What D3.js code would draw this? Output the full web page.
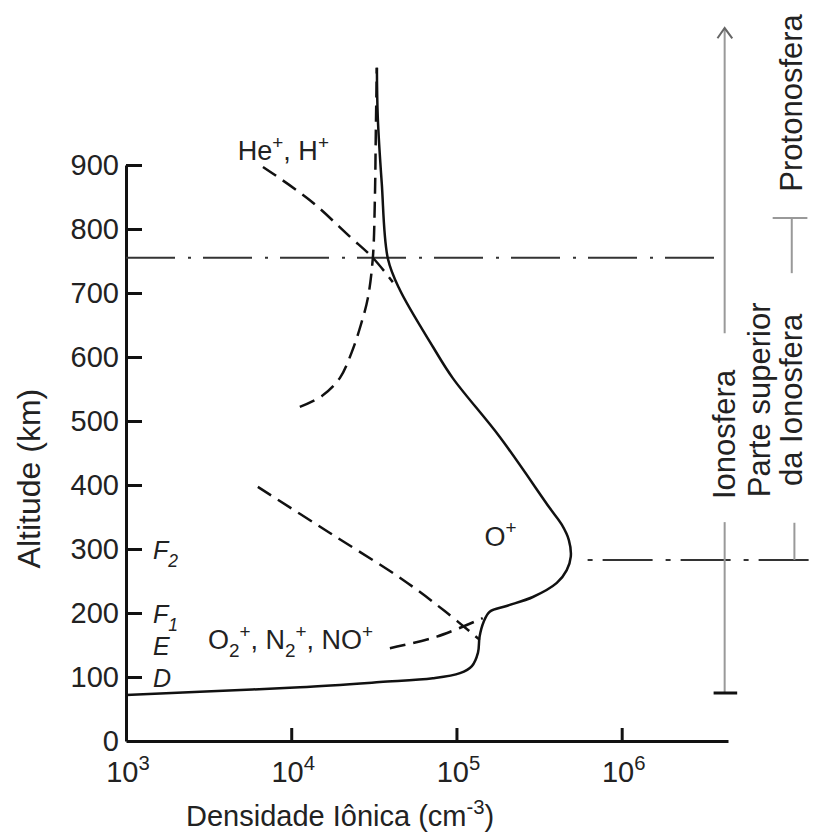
<!DOCTYPE html>
<html>
<head>
<meta charset="utf-8">
<script src="https://cdn.jsdelivr.net/npm/d3@7"></script>
<style>
  body { margin: 0; background: #fff; }
  svg text { font-family: "Liberation Sans", Arial, Helvetica, sans-serif; fill: #222; }
</style>
</head>
<body>
<div id="chart"></div>
<script>
// axis ticks
const altTicks = [0, 100, 200, 300, 400, 500, 600, 700, 800, 900]
const decades = [3, 4, 5, 6]

// solid curve (total / O+), density cm^-3 and altitude km
const solidN = [1e3, 2.8e3, 1.13e4, 3.44e4, 7.2e4, 1.05e5, 1.24e5, 1.35e5, 1.38e5, 1.46e5, 1.59e5, 2.01e5,
    2.9e5, 4.05e5, 4.65e5, 4.92e5, 4.79e5, 4.34e5, 3.67e5, 1.83e5, 9.5e4, 7.2e4, 4.54e4, 3.85e4, 3.53e4, 3.34e4, 3.3e4]
const solidAlt = [72, 77, 84, 92, 98, 106, 117, 138, 163, 186, 202, 211,
    225, 247, 267, 288, 314, 338, 364, 475, 567, 616, 705, 753, 872, 975, 1052]

// He+ dashed (upper, descending)
const heN = [6745, 12970, 22650, 31190, 41210]
const heAlt = [897, 845, 788, 755, 717]

// H+ dashed (rising to the top)
const hN = [11270, 15330, 19680, 23280, 26370, 29090, 31190, 32070, 32520, 32960]
const hAlt = [522, 539, 567, 608, 650, 692, 755, 845, 955, 1052]

// O2+, N2+, NO+ dashed (long, descending)
const molN = [6280, 17140, 47330, 84920, 138400]
const molAlt = [397, 325, 252, 203, 158]

// short dashed near the E region
const eN = [39540, 76030, 144200]
const eAlt = [145, 163, 192]

// layer letters on the left
const layerNames = ['F', 'F', 'E', 'D']
const layerSubs = ['2', '1', '', '']
const layerAlt = [300, 200, 150, 100]

// region boundaries (km)
const protoBase = 755
const peakAlt = 283
const ionoBase = 75

const width = 832, height = 834
const xMax = 4.4e6

const x = d3.scaleLog().domain([1e3, xMax]).range([126, 728])
const y = d3.scaleLinear().domain([0, 900]).range([741, 165])

const svg = d3.select('#chart').append('svg')
    .attr('width', width)
    .attr('height', height)

const richText = (sel, parts, size) => {
    let shift = 0
    parts.forEach(([t, kind]) => {
        const target = kind === 'sup' ? -0.42 * size : kind === 'sub' ? 0.3 * size : 0
        sel.append('tspan')
            .attr('dy', target - shift)
            .attr('font-size', kind ? size * 0.7 : size)
            .text(t)
        shift = target
    })
}

// y axis
const yAxis = svg.append('g')
    .attr('transform', `translate(${x(1e3)},0)`)
    .call(d3.axisLeft(y).tickValues(altTicks).tickSizeInner(-16).tickSizeOuter(0).tickPadding(7))
yAxis.selectAll('path, line').attr('stroke', '#111').attr('stroke-width', 3)
yAxis.selectAll('line').filter(d => d === 0).remove()
yAxis.selectAll('text').attr('font-size', 29).attr('fill', '#222').style('font-family', null)

// x axis
const xAxis = svg.append('g')
    .attr('transform', `translate(0,${y(0)})`)
    .call(d3.axisBottom(x).tickValues([1e4, 1e5, 1e6]).tickSizeInner(-13).tickSizeOuter(0).tickFormat(''))
xAxis.selectAll('path, line').attr('stroke', '#111').attr('stroke-width', 3)

decades.forEach(p => {
    const t = svg.append('text')
        .attr('x', x(Math.pow(10, p)) + 2)
        .attr('y', y(0) + 41)
        .attr('text-anchor', 'middle')
    richText(t, [['10', null], [String(p), 'sup']], 29)
})

// axis titles
const xt = svg.append('text')
    .attr('x', 186)
    .attr('y', 826)
richText(xt, [['Densidade Iônica (cm', null], ['-3', 'sup'], [')', null]], 29)

svg.append('text')
    .attr('transform', `translate(40,${y(410)}) rotate(-90)`)
    .attr('text-anchor', 'middle')
    .attr('font-size', 32)
    .text('Altitude (km)')

// layer letters
layerNames.forEach((n, i) => {
    const t = svg.append('text')
        .attr('x', x(1e3) + 27)
        .attr('y', y(layerAlt[i]) + 10)
        .attr('font-style', 'italic')
    richText(t, layerSubs[i] ? [[n, null], [layerSubs[i], 'sub']] : [[n, null]], 25)
})

// dash-dot boundary lines
svg.append('line')
    .attr('x1', x(1e3)).attr('x2', x(3.81e6))
    .attr('y1', y(protoBase)).attr('y2', y(protoBase))
    .attr('stroke', '#333').attr('stroke-width', 2)
    .attr('stroke-dasharray', '49,13,3,12')

svg.append('line')
    .attr('x1', x(6.22e5)).attr('x2', x(1.37e7))
    .attr('y1', y(peakAlt)).attr('y2', y(peakAlt))
    .attr('stroke', '#333').attr('stroke-width', 2)
    .attr('stroke-dasharray', '5,10,50,13')

// curves
const line = d3.line()
    .x(d => x(d[0]))
    .y(d => y(d[1]))
    .curve(d3.curveCatmullRom.alpha(0.5))

const zip = (a, b) => a.map((v, i) => [v, b[i]])

svg.append('path')
    .attr('d', line(zip(solidN, solidAlt)))
    .attr('fill', 'none').attr('stroke', '#111').attr('stroke-width', 2.5)

const dashed = [zip(heN, heAlt), zip(hN, hAlt), zip(molN, molAlt), zip(eN, eAlt)]
svg.selectAll('.dashed')
    .data(dashed)
    .enter().append('path')
    .attr('class', 'dashed')
    .attr('d', line)
    .attr('fill', 'none').attr('stroke', '#111').attr('stroke-width', 2.5)
    .attr('stroke-dasharray', '16,8')

// ion labels
const heLabel = svg.append('text').attr('x', x(4750)).attr('y', y(908))
richText(heLabel, [['He', null], ['+', 'sup'], [', H', null], ['+', 'sup']], 27)

const oLabel = svg.append('text').attr('x', x(1.48e5)).attr('y', y(305))
richText(oLabel, [['O', null], ['+', 'sup']], 27)

const molLabel = svg.append('text').attr('x', x(3130)).attr('y', y(144))
richText(molLabel, [['O', null], ['2', 'sub'], ['+', 'sup'], [', N', null], ['2', 'sub'], ['+', 'sup'], [', NO', null], ['+', 'sup']], 27)

// right-hand region annotations
const gray = '#999'
const regionX = 4.2e6

svg.append('line')
    .attr('x1', x(regionX)).attr('x2', x(regionX))
    .attr('y1', y(ionoBase)).attr('y2', y(342))
    .attr('stroke', gray).attr('stroke-width', 2)
svg.append('line')
    .attr('x1', x(regionX)).attr('x2', x(regionX))
    .attr('y1', y(637)).attr('y2', y(1114))
    .attr('stroke', gray).attr('stroke-width', 2)
svg.append('path')
    .attr('d', `M${x(3.8e6)},${y(1098)}L${x(regionX)},${y(1114)}L${x(4.67e6)},${y(1098)}`)
    .attr('fill', 'none').attr('stroke', '#666').attr('stroke-width', 2)
svg.append('line')
    .attr('x1', x(3.6e6)).attr('x2', x(5e6))
    .attr('y1', y(ionoBase)).attr('y2', y(ionoBase))
    .attr('stroke', '#111').attr('stroke-width', 3)

// bracket for the upper ionosphere
svg.append('line')
    .attr('x1', x(8.2e6)).attr('x2', x(1.33e7))
    .attr('y1', y(817)).attr('y2', y(817))
    .attr('stroke', gray).attr('stroke-width', 2)
svg.append('line')
    .attr('x1', x(1.07e7)).attr('x2', x(1.07e7))
    .attr('y1', y(817)).attr('y2', y(731))
    .attr('stroke', gray).attr('stroke-width', 2)
svg.append('line')
    .attr('x1', x(1.11e7)).attr('x2', x(1.11e7))
    .attr('y1', y(341)).attr('y2', y(peakAlt))
    .attr('stroke', gray).attr('stroke-width', 2)

const rightText = (label, nx, alt, anchor) => svg.append('text')
    .attr('transform', `translate(${x(nx)},${y(alt)}) rotate(-90)`)
    .attr('text-anchor', anchor)
    .attr('font-size', 31)
    .attr('fill', '#333')
    .text(label)

rightText('Ionosfera', 4.83e6, 378, 'start')
rightText('Protonosfera', 1.23e7, 997, 'middle')
rightText('Parte superior', 7.85e6, 533, 'middle')
rightText('da Ionosfera', 1.23e7, 533, 'middle')
</script>
</body>
</html>
